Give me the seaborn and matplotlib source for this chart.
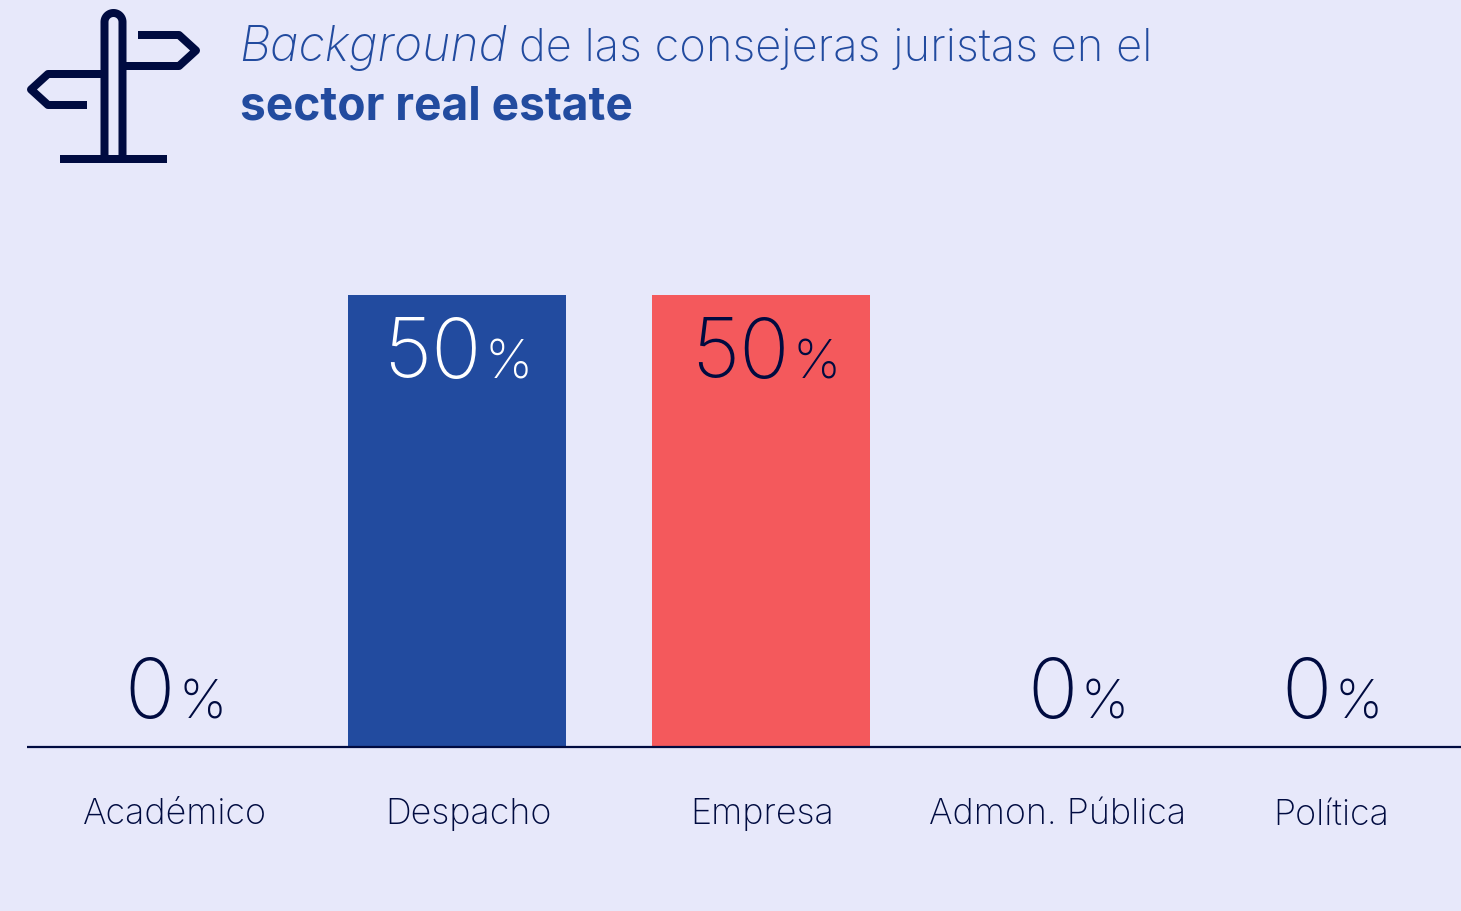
import matplotlib
matplotlib.use("Agg")
import matplotlib.pyplot as plt
import seaborn as sns
import pandas as pd
import numpy as np

categories = ["Académico", "Despacho", "Empresa", "Admon. Pública", "Política"]
values = [0, 50, 50, 0, 0]
BG, BLUE, RED, NAVY = "#E7E8FA", "#224B9F", "#F4595C", "#000B40"
palette = {"Académico": BLUE, "Despacho": BLUE, "Empresa": RED, "Admon. Pública": BLUE, "Política": BLUE}

W, H = 1461, 912
sns.set_theme(style="white")
FONT = "Inter"
plt.rcParams["font.family"] = [FONT, "DejaVu Sans"]
fig = plt.figure(figsize=(W / 100, H / 100), dpi=100, facecolor=BG)
L, R, T, B = 27, 1461, 296, 747.5
ax = fig.add_axes([L / W, 1 - B / H, (R - L) / W, (B - T) / H], facecolor="none")
df = pd.DataFrame({"cat": categories, "val": values})
sns.barplot(df, x="cat", y="val", hue="cat", palette=palette, legend=False, width=218 / 304, ax=ax, saturation=1, linewidth=0)
x0 = lambda p: (p - 457) / 304 + 1
ax.set_xlim(x0(L), x0(R))
ax.set_ylim(0, 50)
ax.set_xlabel(""); ax.set_ylabel("")
ax.set_yticks([])
label_px = [175, 468, 762, 1058, 1331]
ax.set_xticks([x0(p) for p in label_px], categories)
ax.tick_params(axis="x", length=0, pad=48.5, labelsize=25.8, labelcolor=NAVY)
for s in ["top", "left", "right"]:
    ax.spines[s].set_visible(False)
ax.spines["bottom"].set_color(NAVY)
ax.spines["bottom"].set_linewidth(1.6)
ax.spines["bottom"].set_capstyle("butt")
for t in ax.get_xticklabels():
    t.set_fontweight("light")
    t.set_va("center")

ov = fig.add_axes([0, 0, 1, 1], facecolor="none")
ov.set_xlim(0, W); ov.set_ylim(H, 0); ov.axis("off")

num_right = [175, 482, 790, 1078, 1332]
for v, px, c in zip(values, num_right, ["0", "w", "k", "0", "0"]):
    col = "white" if c == "w" else NAVY
    base = 378 if v else 718
    ov.text(px, base, str(v), ha="right", va="baseline", fontsize=60, color=col, fontweight="light")
    ov.text(px + 3, base + 1, "%", ha="left", va="baseline", fontsize=39, color=col, fontweight="light")

ov.text(239, 61, "Background", fontsize=34.6, style="italic", fontweight="light", color=BLUE, ha="left", va="baseline")
ov.text(519, 61, "de las consejeras juristas en el", fontsize=32.6, fontweight="light", color=BLUE, ha="left", va="baseline")
ov.text(240, 120, "sector real estate", fontsize=33.2, fontweight="bold", color=BLUE, ha="left", va="baseline")

lw = 8 * 0.72
kw = dict(color=NAVY, lw=lw, solid_joinstyle="round", solid_capstyle="butt")
th = np.linspace(np.pi, 2 * np.pi, 30)
px = np.r_[104.5, 113.5 + 9 * np.cos(th), 122.5]
py = np.r_[156, 23 + 9 * np.sin(th), 156]
ov.plot(px, py, **kw)
ov.plot([122, 179, 196, 179, 138], [67, 67, 51.5, 36, 36], **kw)
ov.plot([104, 48, 31, 48, 87], [75, 75, 90.5, 106, 106], **kw)
ov.plot([60, 167], [160, 160], **kw)

fig.savefig("out.png", dpi=100, facecolor=BG)
